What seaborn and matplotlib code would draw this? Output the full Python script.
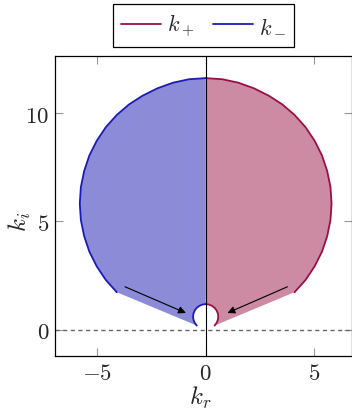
import matplotlib
matplotlib.use('Agg')
import matplotlib.pyplot as plt
import seaborn as sns
import pandas as pd

# boundary of the k+ region (top -> bottom)
kplus_x = [0.00, 0.76, 1.50, 2.22, 2.90, 3.52, 4.09, 4.59, 5.01, 5.35, 5.59, 5.74, 5.79, 5.74, 5.59, 5.35, 5.01, 4.59, 4.09]
kplus_y = [11.61, 11.56, 11.40, 11.14, 10.80, 10.40, 9.91, 9.35, 8.72, 8.04, 7.32, 6.58, 5.82, 5.06, 4.32, 3.60, 2.92, 2.29, 1.73]
# boundary of the k- region (top -> bottom)
kminus_x = [0.00, -0.76, -1.50, -2.22, -2.90, -3.52, -4.09, -4.59, -5.01, -5.35, -5.59, -5.74, -5.79, -5.74, -5.59, -5.35, -5.01, -4.59, -4.09]
kminus_y = [11.61, 11.56, 11.40, 11.14, 10.80, 10.40, 9.91, 9.35, 8.72, 8.04, 7.32, 6.58, 5.82, 5.06, 4.32, 3.60, 2.92, 2.29, 1.73]

# small indentation around the origin (top -> bottom)
arc_plus_x = [0.00, 0.15, 0.29, 0.41, 0.50, 0.56, 0.58, 0.56, 0.50, 0.41]
arc_plus_y = [1.18, 1.16, 1.10, 1.01, 0.89, 0.75, 0.60, 0.45, 0.31, 0.19]
arc_minus_x = [0.00, -0.15, -0.29, -0.41, -0.50, -0.56, -0.58, -0.56, -0.50, -0.41]
arc_minus_y = [1.18, 1.16, 1.10, 1.01, 0.89, 0.75, 0.60, 0.45, 0.31, 0.19]

# arrows (start, end)
arrow_left = [(-3.71, 1.98), (-0.91, 0.77)]
arrow_right = [(3.76, 1.98), (1.00, 0.77)]

xticks = [-5, 0, 5]
xtick_labels = ['$-5$', '$0$', '$5$']
yticks = [0, 5, 10]
ytick_labels = ['$0$', '$5$', '$10$']

plus_line, plus_fill = '#9b0f47', '#cc8aa3'
minus_line, minus_fill = '#1c1cb4', '#8b8bd8'

sns.set_style('ticks')
plt.rcParams['mathtext.fontset'] = 'cm'
plt.rcParams['font.family'] = ['DejaVu Serif']

fig = plt.figure(figsize=(3.52, 4.10), dpi=100)
ax = fig.add_axes([55 / 352, 0.1285, 297 / 352, 0.7324])

# filled regions
ax.fill(kplus_x + arc_plus_x[::-1], kplus_y + arc_plus_y[::-1], color=plus_fill, lw=0, zorder=1)
ax.fill(kminus_x + arc_minus_x[::-1], kminus_y + arc_minus_y[::-1], color=minus_fill, lw=0, zorder=1)

# boundary curves
line_kw = dict(sort=False, estimator=None, errorbar=None, lw=1.3, ax=ax, zorder=3)
dp = pd.DataFrame({'x': kplus_x, 'y': kplus_y})
dm = pd.DataFrame({'x': kminus_x, 'y': kminus_y})
sns.lineplot(data=dp, x='x', y='y', color=plus_line, label='$k_+$', **line_kw)
sns.lineplot(data=dm, x='x', y='y', color=minus_line, label='$k_-$', **line_kw)
sns.lineplot(x=arc_plus_x, y=arc_plus_y, color=plus_line, **line_kw)
sns.lineplot(x=arc_minus_x, y=arc_minus_y, color=minus_line, **line_kw)

ax.axvline(0, color='black', lw=0.8, zorder=4)
ax.axhline(0, color='#666666', lw=1.0, ls=(0, (3, 2.5)), zorder=2)

for (x0, y0), (x1, y1) in [arrow_left, arrow_right]:
    ax.annotate('', xy=(x1, y1), xytext=(x0, y0),
                arrowprops=dict(arrowstyle='-|>', color='black', lw=0.8,
                                mutation_scale=11, shrinkA=0, shrinkB=0), zorder=5)

ax.set_xlim(-6.93, 6.73)
ax.set_ylim(-1.23, 12.63)
ax.set_xticks(xticks)
ax.set_xticklabels(xtick_labels, fontsize=16.5)
ax.set_yticks(yticks)
ax.set_yticklabels(ytick_labels, fontsize=16.5)
ax.tick_params(direction='in', length=6, width=0.8, color='#999999',
               top=True, right=True, pad=4)
for s in ax.spines.values():
    s.set_color('black')
    s.set_linewidth(0.9)
    s.set_visible(True)

ax.set_xlabel('$k_r$', fontsize=18)
ax.set_ylabel('$k_i$', fontsize=18)
ax.xaxis.set_label_coords(0.49, -0.092)
ax.yaxis.set_label_coords(-0.075, 0.45)

ax.legend(loc='lower center', bbox_to_anchor=(0.5, 1.03), ncol=2, fontsize=16,
          frameon=True, fancybox=False, edgecolor='black', framealpha=1,
          handlelength=1.8, handletextpad=0.3, columnspacing=0.8,
          borderpad=0.35, borderaxespad=0)
ax.get_legend().get_frame().set_linewidth(0.9)

fig.savefig('out.png', dpi=100)
